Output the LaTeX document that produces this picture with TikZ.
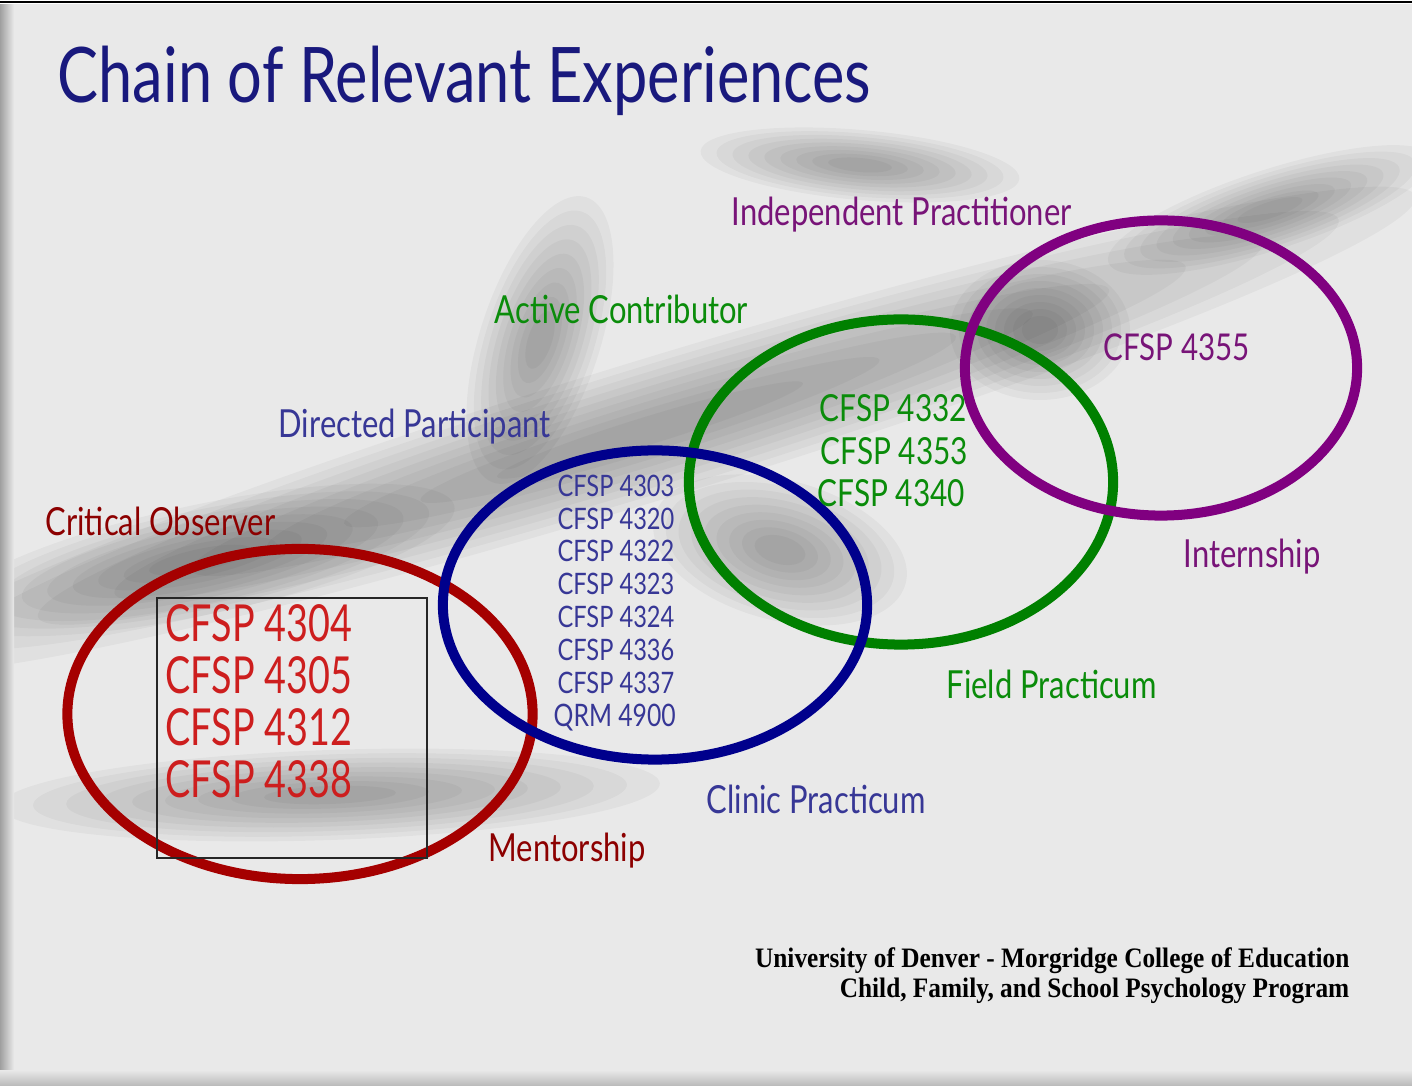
\documentclass[tikz,border=0pt]{standalone}
\usepackage{fontspec}
\setmainfont{Lato}
\newfontfamily\handfont[FakeStretch=0.8]{Lato}
\newfontfamily\narrowfont[FakeStretch=0.74]{Lato}
\newfontfamily\footfont[FakeStretch=0.9]{Liberation Serif}
\usetikzlibrary{shapes.geometric}

\definecolor{titleblue}{RGB}{25,25,125}
\definecolor{obsred}{RGB}{165,0,0}
\definecolor{obstext}{RGB}{205,30,30}
\definecolor{dirblue}{RGB}{0,0,140}
\definecolor{dirtext}{RGB}{55,55,150}
\definecolor{actgreen}{RGB}{0,128,0}
\definecolor{acttext}{RGB}{10,140,10}
\definecolor{indpurple}{RGB}{128,0,128}
\definecolor{indtext}{RGB}{120,20,120}

\begin{document}
\begin{tikzpicture}[x=0.01cm, y=-0.01cm,
  ring/.style={draw, ellipse, line width=0.1cm, inner sep=0pt},
  stagetext/.style={anchor=base west, inner sep=0pt, font=\handfont\fontsize{11}{13}\selectfont},
  codetext/.style={anchor=base west, inner sep=0pt, font=\handfont\fontsize{#1}{#1}\selectfont},
  bigcode/.style={anchor=base west, inner sep=0pt, text=obstext, font=\narrowfont\fontsize{14.5}{15}\selectfont},
  shadow/.style={black, opacity=0.035}]
  \useasboundingbox (0,0) rectangle (1412,1086);

  % blurred photo behind the rings
  \fill[gray!17] (0,0) rectangle (1412,1086);
  \foreach \cx/\cy/\rx/\ry/\ang in {650/430/800/70/17, 200/560/260/55/12, 330/795/330/45/2,
      780/550/130/70/-15, 540/340/60/150/-18, 1270/210/170/40/18, 1040/330/90/70/0, 860/165/160/35/-5}
    \foreach \s in {1,0.9,...,0.1}
      \fill[shadow, rotate around={\ang:(\cx,\cy)}] (\cx,\cy) ellipse [x radius=\s*\rx, y radius=\s*\ry];
  \shade[left color=gray!75, right color=gray!17] (0,5) rectangle (14,1086);
  \shade[top color=gray!17, bottom color=gray!55] (0,1070) rectangle (1412,1086);
  \fill[white] (0,0) rectangle (1412,4);
  \draw[black, line width=0.025cm] (0,2) -- (1412,2);

  \node[anchor=base west, inner sep=0pt, text=titleblue, font=\handfont\fontsize{21.8}{24}\selectfont] (Title) at (57,103) {Chain of Relevant Experiences};

  % the four stages
  \node[ring, draw=obsred, minimum width=4.65cm, minimum height=3.3cm] (ObserverRing) at (300,714) {};
  \node[ring, draw=actgreen, minimum width=4.24cm, minimum height=3.25cm] (ContributorRing) at (901,482) {};
  \node[ring, draw=indpurple, minimum width=3.92cm, minimum height=2.95cm] (PractitionerRing) at (1161,368) {};
  \node[ring, draw=dirblue, minimum width=4.24cm, minimum height=3.09cm] (ParticipantRing) at (655,605) {};
  \draw[gray!30!black] (157,598) rectangle (427,858);

  \node[stagetext, text=obsred!85!black] (ObserverLbl) at (45,536) {Critical Observer};
  \node[stagetext, text=dirtext] (ParticipantLbl) at (278,438) {Directed Participant};
  \node[stagetext, text=acttext] (ContributorLbl) at (494,324) {Active Contributor};
  \node[stagetext, text=indtext] (PractitionerLbl) at (731,226) {Independent Practitioner};
  \node[stagetext, text=obsred!85!black] (MentorLbl) at (488,862) {Mentorship};
  \node[stagetext, text=dirtext] (ClinicLbl) at (706,814) {Clinic Practicum};
  \node[stagetext, text=acttext] (FieldLbl) at (946,699) {Field Practicum};
  \node[stagetext, text=indtext] (InternLbl) at (1183,568) {Internship};

  % courses
  \node[bigcode] (Obs1) at (165,642) {CFSP 4304};
  \node[bigcode] (Obs2) at (165,694) {CFSP 4305};
  \node[bigcode] (Obs3) at (165,746) {CFSP 4312};
  \node[bigcode] (Obs4) at (165,798) {CFSP 4338};

  \node[codetext=8.4, text=dirtext] (Dir1) at (557,497) {CFSP 4303};
  \node[codetext=8.4, text=dirtext] (Dir2) at (557,530) {CFSP 4320};
  \node[codetext=8.4, text=dirtext] (Dir3) at (557,562) {CFSP 4322};
  \node[codetext=8.4, text=dirtext] (Dir4) at (557,595) {CFSP 4323};
  \node[codetext=8.4, text=dirtext] (Dir5) at (557,628) {CFSP 4324};
  \node[codetext=8.4, text=dirtext] (Dir6) at (557,661) {CFSP 4336};
  \node[codetext=8.4, text=dirtext] (Dir7) at (557,694) {CFSP 4337};
  \node[codetext=8.8, text=dirtext] (Dir8) at (553,727) {QRM 4900};

  \node[codetext=10.6, text=acttext] (Act1) at (819,422) {CFSP 4332};
  \node[codetext=10.6, text=acttext] (Act2) at (820,465) {CFSP 4353};
  \node[codetext=10.6, text=acttext] (Act3) at (817,507) {CFSP 4340};

  \node[codetext=10.5, text=indtext] (Ind1) at (1103,361) {CFSP 4355};

  \node[anchor=base east, inner sep=0pt, font=\footfont\bfseries\fontsize{8}{9}\selectfont] (School) at (1350,968) {University of Denver - Morgridge College of Education};
  \node[anchor=base east, inner sep=0pt, font=\footfont\bfseries\fontsize{8}{9}\selectfont] (Program) at (1350,998) {Child, Family, and School Psychology Program};
\end{tikzpicture}
\end{document}
